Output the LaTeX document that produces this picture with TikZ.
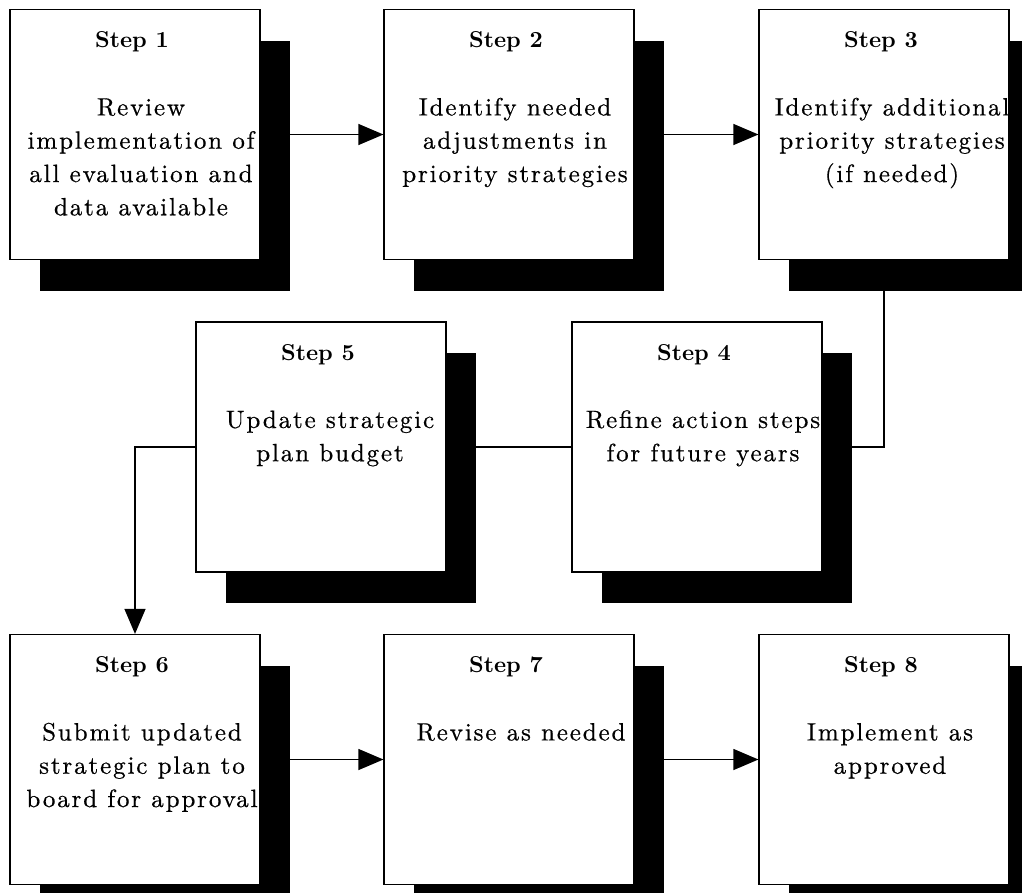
\documentclass[tikz,border=0pt]{standalone}
\usepackage{fontspec}
% body text: Latin Modern with a little tracking; titles in Latin Modern bold
\newfontfamily\bodyfam{lmroman10-regular.otf}[LetterSpace=7.5, FakeBold=0.6]
\newfontfamily\titlefam{lmroman10-bold.otf}
\usetikzlibrary{arrows.meta,shadows,backgrounds}

\begin{document}
\begin{tikzpicture}[x=1pt,y=-1pt,
  stepbox/.style={draw=black, line width=1.2pt, fill=white,
    minimum width=250pt, minimum height=250pt, inner sep=0pt,
    general shadow={fill=black, shadow xshift=30pt, shadow yshift=-31pt}},
  steptitle/.style={font=\titlefam\fontsize{23}{27}\selectfont,
    anchor=base, inner sep=0pt},
  stepbody/.style={font=\bodyfam\fontsize{25}{33.3}\selectfont,
    align=center, anchor=north, inner sep=0pt},
  flow/.style={line width=1.2pt, -{Triangle[length=25pt,width=21pt]}}]

\path[use as bounding box, clip] (0,0) rectangle (1022,892);

% the eight step boxes with their drop shadows
\node[stepbox] (s1) at (135,134.5) {};
\node[stepbox] (s2) at (509,134.5) {};
\node[stepbox] (s3) at (884,134.5) {};
\node[stepbox] (s5) at (321,447) {};
\node[stepbox] (s4) at (697,447) {};
\node[stepbox] (s6) at (135,759.5) {};
\node[stepbox] (s7) at (509,759.5) {};
\node[stepbox] (s8) at (884,759.5) {};

% titles
\node[steptitle] (t1) at ([shift={(-3,39)}]s1.north) {Step 1};
\node[steptitle] (t2) at ([shift={(-3,39)}]s2.north) {Step 2};
\node[steptitle] (t3) at ([shift={(-3,39)}]s3.north) {Step 3};
\node[steptitle] (t4) at ([shift={(-3,39)}]s4.north) {Step 4};
\node[steptitle] (t5) at ([shift={(-3,39)}]s5.north) {Step 5};
\node[steptitle] (t6) at ([shift={(-3,39)}]s6.north) {Step 6};
\node[steptitle] (t7) at ([shift={(-3,39)}]s7.north) {Step 7};
\node[steptitle] (t8) at ([shift={(-3,39)}]s8.north) {Step 8};

% descriptions
\node[stepbody] (b1) at ([shift={(6,83)}]s1.north)
  {\strut Review\\implementation of\\all evaluation and\\data available};
\node[stepbody] (b2) at ([shift={(6,83)}]s2.north)
  {\strut Identify needed\\adjustments in\\priority strategies};
\node[stepbody] (b3) at ([shift={(8,83)}]s3.north)
  {\strut Identify additional\\priority strategies\\(if needed)};
\node[stepbody] (b4) at ([shift={(6,83)}]s4.north)
  {\strut Refine action steps\\for future years};
\node[stepbody] (b5) at ([shift={(9,83)}]s5.north)
  {\strut Update strategic\\plan budget};
\node[stepbody] (b6) at ([shift={(7,83)}]s6.north)
  {\strut Submit updated\\strategic plan to\\board for approval};
\node[stepbody] (b7) at ([shift={(12,83)}]s7.north)
  {\strut Revise as needed};
\node[stepbody] (b8) at ([shift={(6,83)}]s8.north)
  {\strut Implement as\\approved};

% connectors run behind the boxes and their shadows
\begin{scope}[on background layer]
  \fill[white] (0,0) rectangle (1022,892);
  \draw[flow] (s1.east) -- (s2.west);
  \draw[flow] (s2.east) -- (s3.west);
  \draw[flow] (s3.south) |- (s4.east);
  \draw[flow] (s4.west) -- (s5.east);
  \draw[flow] (s5.west) -| (s6.north);
  \draw[flow] (s6.east) -- (s7.west);
  \draw[flow] (s7.east) -- (s8.west);
\end{scope}
\end{tikzpicture}
\end{document}
